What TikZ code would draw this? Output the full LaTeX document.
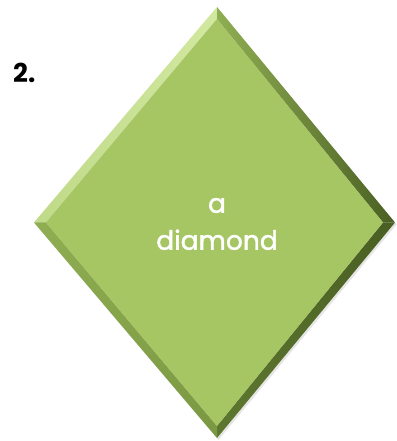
\documentclass[tikz,border=0pt]{standalone}
\usepackage{fontspec}
\setmainfont{Poppins}
\newfontfamily\semib{Poppins}[FakeBold=1.6]
\usetikzlibrary{shapes.geometric,calc}
\definecolor{facefill}{HTML}{A5C663}
\definecolor{bevlight}{HTML}{BFDA88}
\definecolor{bevlighter}{HTML}{D2E8A0}
\definecolor{bevmid}{HTML}{8FAE52}
\definecolor{bevmidb}{HTML}{7A9841}
\definecolor{bevdark}{HTML}{5E7830}
\definecolor{bevdarker}{HTML}{4A5F23}
\begin{document}
\begin{tikzpicture}[x=1pt,y=1pt,
  labeltext/.style={text=white, align=center, font=\semib\fontsize{26.5}{37}\selectfont},
  numtext/.style={text=black, font=\bfseries\fontsize{26}{30}\selectfont, anchor=base west, inner sep=0pt}]
\useasboundingbox (0,0) rectangle (396,441);
% outer and inner corners
\coordinate (T) at (217,434);
\coordinate (B) at (217,3);
\coordinate (L) at (34,218.5);
\coordinate (R) at (395,218.5);
\coordinate (Ti) at (217,422);
\coordinate (Bi) at (217,15);
\coordinate (Li) at (46,218.5);
\coordinate (Ri) at (383,218.5);
% soft shadow
\fill[black,opacity=0.10] ($(T)+(1.5,-2)$) -- ($(R)+(1.5,-2)$) -- ($(B)+(1.5,-2)$) -- ($(L)+(1.5,-2)$) -- cycle;
% bevel facets
\shade[left color=bevlight, right color=bevlighter] (L) -- (T) -- (Ti) -- (Li) -- cycle;
\shade[left color=bevmid, right color=bevdarker] (T) -- (R) -- (Ri) -- (Ti) -- cycle;
\shade[top color=bevdarker, bottom color=bevdark] (R) -- (B) -- (Bi) -- (Ri) -- cycle;
\shade[top color=bevmid, bottom color=bevmidb] (B) -- (L) -- (Li) -- (Bi) -- cycle;
% face
\fill[facefill] (Ti) -- (Ri) -- (Bi) -- (Li) -- cycle;
\node[labeltext] (lbl) at (217,217) {a\\diamond};
\node[numtext] (num) at (13,358) {2.};
\end{tikzpicture}
\end{document}
